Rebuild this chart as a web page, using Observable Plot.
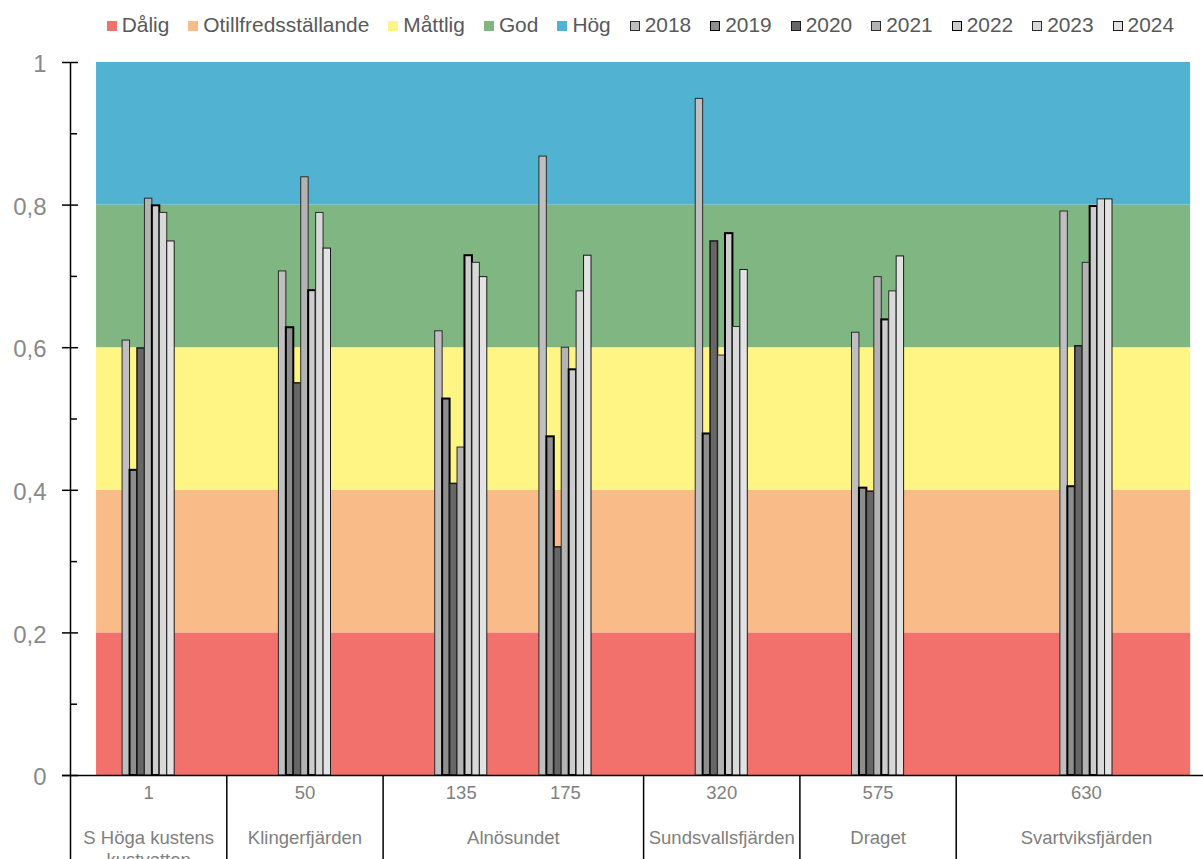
<!DOCTYPE html>
<html>
<head>
<meta charset="utf-8">
<script src="https://cdn.jsdelivr.net/npm/d3@7"></script>
<script src="https://cdn.jsdelivr.net/npm/@observablehq/plot@0.6"></script>
<style>
  html, body { margin: 0; padding: 0; background: #fff; overflow: hidden; }
  body { font-family: "Liberation Sans", Arial, sans-serif; width: 1203px; height: 859px; }
  #legend { height: 45px; box-sizing: border-box; padding: 5px 0 0 106.7px; display: flex; align-items: center; line-height: 20px; font-size: 20.9px; color: #595959; white-space: nowrap; }
  .item { display: flex; align-items: center; margin-right: 19px; }
  .sw { width: 10px; height: 10px; box-sizing: border-box; margin-right: 5px; position: relative; top: 1px; }
  #chart svg { display: block; }
</style>
</head>
<body>
<div id="legend"></div>
<div id="chart"></div>
<script>
// ---- data ----
// category slots along the x axis (station number, blank for empty slots)
const slotStation = ["", "1", "", "", "50", "", "", "135", "", "175", "", "", "320", "", "", "575", "", "", "", "630", "", ""];
// water body that each slot belongs to
const slotWaterbody = [
  "S Höga kustens\nkustvatten", "S Höga kustens\nkustvatten", "S Höga kustens\nkustvatten",
  "Klingerfjärden", "Klingerfjärden", "Klingerfjärden",
  "Alnösundet", "Alnösundet", "Alnösundet", "Alnösundet", "Alnösundet",
  "Sundsvallsfjärden", "Sundsvallsfjärden", "Sundsvallsfjärden",
  "Draget", "Draget", "Draget",
  "Svartviksfjärden", "Svartviksfjärden", "Svartviksfjärden", "Svartviksfjärden", "Svartviksfjärden"
];
const stations = ["1", "50", "135", "175", "320", "575", "630"];
const years = ["2018", "2019", "2020", "2021", "2022", "2023", "2024"];
const v2018 = [0.61, 0.707, 0.623, 0.868, 0.949, 0.621, 0.791];
const v2019 = [0.428, 0.628, 0.528, 0.475, 0.479, 0.403, 0.405];
const v2020 = [0.599, 0.55, 0.409, 0.32, 0.749, 0.398, 0.602];
const v2021 = [0.809, 0.839, 0.46, 0.60, 0.589, 0.699, 0.719];
const v2022 = [0.799, 0.68, 0.729, 0.569, 0.76, 0.639, 0.798];
const v2023 = [0.789, 0.789, 0.719, 0.679, 0.629, 0.679, 0.808];
const v2024 = [0.749, 0.739, 0.699, 0.729, 0.709, 0.728, 0.808];
const yearValues = [v2018, v2019, v2020, v2021, v2022, v2023, v2024];
// status classes
const classNames = ["Dålig", "Otillfredsställande", "Måttlig", "God", "Hög"];
const classBreaks = [0, 0.2, 0.4, 0.6, 0.8, 1];
const yTicks = [0, 0.2, 0.4, 0.6, 0.8, 1];
const yMinorTicks = [0.1, 0.3, 0.5, 0.7, 0.9];

// ---- styles ----
const classColors = ["#f2716c", "#f9bc88", "#fff585", "#80b681", "#51b2d1"];
const yearFill = ["#bfbfbf", "#8e8e8e", "#666666", "#b3b3b3", "#cdcdcd", "#d9d9d9", "#e3e3e3"];
const yearStroke = ["#2b2b2b", "#000000", "#1a1a1a", "#2b2b2b", "#000000", "#2b2b2b", "#1a1a1a"];
const yearStrokeWidth = [1, 2, 1.5, 1, 2, 1, 1];
const font = "Liberation Sans, Arial, sans-serif";

// ---- legend ----
const legend = document.getElementById("legend");
function addItem(label, fill, stroke, sw) {
  const it = document.createElement("div"); it.className = "item";
  const s = document.createElement("div"); s.className = "sw";
  s.style.background = fill;
  if (stroke) s.style.border = `${sw}px solid ${stroke}`;
  const t = document.createElement("span"); t.textContent = label;
  it.appendChild(s); it.appendChild(t); legend.appendChild(it);
}
classNames.forEach((c, i) => addItem(c, classColors[i]));
years.forEach((y, i) => addItem(y, yearFill[i], yearStroke[i], Math.max(1, yearStrokeWidth[i] - 0.5)));

// ---- derived tables ----
const nSlots = slotStation.length;
const classRows = classNames.map((c, i) => ({name: c, lo: classBreaks[i], hi: classBreaks[i + 1], color: classColors[i]}));
const stationRows = stations.map(s => ({station: s, slot: slotStation.indexOf(s)}));
const waterbodyRows = [];
slotWaterbody.forEach((w, i) => {
  const last = waterbodyRows[waterbodyRows.length - 1];
  if (last && last.name === w) last.end = i + 1;
  else waterbodyRows.push({name: w, start: i, end: i + 1});
});
const boundaries = waterbodyRows.map(d => d.start);
const fmt = d => String(d).replace(".", ",");

const barMarks = years.map((yr, k) => Plot.rect(
  stationRows.map((s, j) => ({station: s.station, slot: s.slot, year: yr, k, value: yearValues[k][j]})),
  {
    x1: d => d.slot + d.k / years.length,
    x2: d => d.slot + (d.k + 1) / years.length,
    y1: 0, y2: d => d.value,
    fill: yearFill[k], stroke: yearStroke[k], strokeWidth: yearStrokeWidth[k]
  }
));

const unit = 52.1;
const chart = Plot.plot({
  width: 1203,
  height: 814,
  marginLeft: 70,
  marginRight: 0,
  marginTop: 17,
  marginBottom: 84,
  x: {type: "linear", domain: [0, nSlots], range: [70, 70 + nSlots * unit], axis: null},
  y: {domain: [0, 1], axis: null},
  style: {fontFamily: font, background: "#fff", overflow: "hidden"},
  marks: [
    // status bands from first to last slot centre
    Plot.rect(classRows, {x1: () => 0.5, x2: () => nSlots - 0.5, y1: "lo", y2: "hi", fill: d => d.color}),
    ...barMarks,
    // axes lines
    Plot.ruleY([0], {stroke: "#000", strokeWidth: 1.5, insetLeft: -8}),
    Plot.ruleX([0], {y1: () => 1, y2: () => 0, stroke: "#000", strokeWidth: 1.5, insetBottom: -90}),
    Plot.ruleX(boundaries.filter(b => b > 0), {y1: () => 0, y2: () => 0, stroke: "#000", strokeWidth: 1.5, insetBottom: -90}),
    // y ticks
    Plot.ruleY(yTicks, {x1: () => 0, x2: () => 0, insetLeft: -8, insetRight: -8, stroke: "#000", strokeWidth: 1.5}),
    Plot.ruleY(yMinorTicks, {x1: () => 0, x2: () => 0, insetRight: -7, stroke: "#000", strokeWidth: 1.5}),
    Plot.text(yTicks, {y: d => d, frameAnchor: "left", dx: -24, dy: 2, textAnchor: "end", text: fmt, fontSize: 24, fill: "#8a8a8a"}),
    // x labels
    Plot.text(stationRows, {x: d => d.slot + 0.5, frameAnchor: "bottom", dy: 23, text: "station", fontSize: 18.5, fill: "#808080"}),
    Plot.text(waterbodyRows, {x: d => (d.start + d.end) / 2, frameAnchor: "bottom", lineAnchor: "top", dy: 52, lineHeight: 1.22, text: "name", fontSize: 18.5, fill: "#808080"})
  ]
});
document.getElementById("chart").appendChild(chart);
</script>
</body>
</html>
